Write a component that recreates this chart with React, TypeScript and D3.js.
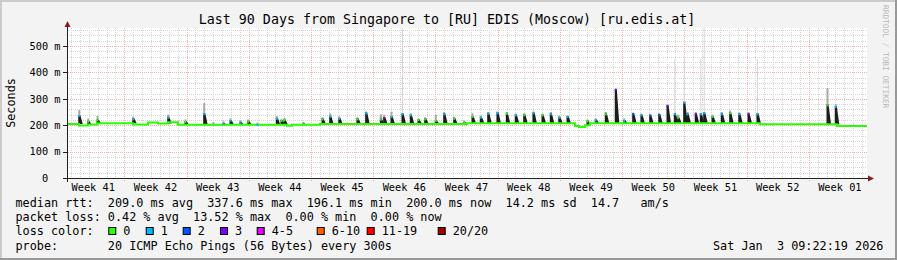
import React from 'react';
import * as d3 from 'd3';

const W = 897;
const H = 260;
const DAY = 86400000;
const START = Date.UTC(2025, 9, 6, 13, 12);
const SPAN_DAYS = 90;

const TITLE = 'Last 90 Days from Singapore to [RU] EDIS (Moscow) [ru.edis.at]';
const Y_TICKS = [0, 100, 200, 300, 400, 500];
const Y_TICK_LABELS = ['0', '100 m', '200 m', '300 m', '400 m', '500 m'];
const Y_MAX = 568.2;

const LOSS_LABELS = ['0', '1', '2', '3', '4-5', '6-10', '11-19', '20/20'];
const LOSS_COLORS = ['#26ff00', '#00b8ff', '#0059ff', '#7e00ff', '#dd00ff', '#ff5e00', '#ff0000', '#a10000'];

const LEGEND_RTT = 'median rtt:  209.0 ms avg  337.6 ms max  196.1 ms min  200.0 ms now  14.2 ms sd  14.7   am/s';
const LEGEND_LOSS = 'packet loss: 0.42 % avg  13.52 % max  0.00 % min  0.00 % now';
const LEGEND_LOSSCOLOR = 'loss color:';
const LEGEND_PROBE = 'probe:       20 ICMP Echo Pings (56 Bytes) every 300s';
const LEGEND_DATE = 'Sat Jan  3 09:22:19 2026';
const WATERMARK = 'RRDTOOL / TOBI OETIKER';

// median baseline (step changes): day offset, ms
const baseDays = [0, 1.35, 2.33, 3.37, 7.42, 9.11, 10.24, 11.36, 12.49, 24.75, 25.31, 28.46, 45, 57.15, 57.6, 58.27, 58.84, 77.96, 86.6];
const baseMs = [205, 199, 203, 207, 203, 210, 206, 211, 202, 198, 202, 205, 207, 197, 193, 200, 207, 204, 197];

// spikes: day offset, median peak (ms), smoke max (ms), loss class
const spikeDays = [1.32, 2.33, 3.38, 7.39, 11.33, 13.27, 15.38, 16.42, 17.55, 18.34, 19.46, 20.33, 21.37,
  23.55, 24.07, 24.41, 26.55, 28.69, 29.55, 30.57, 32.62, 33.6, 35.25, 35.63, 36.45, 37.69, 38.62, 39.49,
  40.24, 41.43, 42.38, 43.5, 44.63, 45.56, 46.5, 47.33, 48.37, 49.42, 50.43, 51.38, 52.42, 53.44, 54.37,
  55.32, 56.25, 58.5, 59.43, 60.56, 61.68, 62.63, 63.64, 64.57, 65.55, 66.57, 67.5, 68.32, 68.7, 69.38,
  69.75, 70.68, 71.25, 71.63, 72.56, 73.61, 74.55, 75.57, 76.61, 77.62, 85.5, 86.43];
const spikePeak = [239, 217, 222, 226, 232, 216, 246, 205, 208, 220, 213, 217, 205,
  228, 220, 222, 206, 226, 236, 228, 226, 249, 225, 231, 235, 245, 241, 223,
  226, 220, 245, 228, 212, 235, 232, 247, 249, 247, 241, 242, 249, 241, 245,
  232, 235, 218, 222, 245, 337, 220, 245, 241, 240, 242, 276, 245, 232, 289,
  245, 245, 245, 249, 235, 245, 249, 245, 245, 245, 279, 273];
const spikeMax = [257, 225, 235, 232, 240, 222, 284, 212, 215, 226, 218, 222, 210,
  234, 224, 228, 212, 230, 245, 233, 230, 252, 241, 240, 251, 570, 245, 226,
  230, 240, 250, 232, 218, 245, 236, 250, 252, 250, 244, 245, 252, 244, 250,
  236, 238, 222, 226, 250, 340, 226, 248, 244, 243, 246, 280, 450, 240, 450,
  250, 250, 450, 570, 240, 250, 255, 248, 250, 450, 341, 280];
const spikeLoss = [1, 0, 0, 1, 1, 0, 1, 0, 1, 1, 1, 0, 1,
  1, 0, 0, 0, 0, 1, 1, 0, 1, 0, 3, 1, 1, 1, 0,
  0, 0, 1, 0, 0, 0, 1, 1, 1, 0, 1, 0, 1, 0, 1,
  1, 1, 0, 1, 0, 3, 1, 2, 1, 2, 2, 3, 1, 0, 1,
  1, 3, 1, 1, 0, 1, 0, 1, 3, 1, 0, 1];

const LEGEND_BOX_X = [108.3, 145.7, 182.7, 220, 256.7, 316.7, 366.7, 437.7];

const MONO = '"DejaVu Sans Mono", monospace';

export default function App() {
  const x = d3.scaleUtc().domain([new Date(START), new Date(START + SPAN_DAYS * DAY)]).range([67, 867]);
  const y = d3.scaleLinear().domain([0, Y_MAX]).range([178, 28]);
  const dx = (d: number) => x(new Date(START + d * DAY));
  const baseAt = (d: number) => {
    let v = baseMs[0];
    for (let i = 0; i < baseDays.length; i++) if (baseDays[i] <= d) v = baseMs[i];
    return v;
  };

  const t0 = new Date(START);
  const t1 = new Date(START + SPAN_DAYS * DAY);
  const days = d3.utcDay.range(d3.utcDay.ceil(t0), t1);
  const weeks = d3.utcMonday.range(d3.utcMonday.ceil(t0), t1);
  const weekLabels = d3.utcMonday.range(d3.utcMonday.floor(t0), t1)
    .map((w) => ({ t: new Date(+w + 3.5 * DAY), label: 'Week ' + d3.utcFormat('%V')(w) }))
    .filter((o) => o.t >= t0 && o.t <= t1);
  const isWeek = (d: Date) => d.getUTCDay() === 1;

  const minorY = d3.range(20, Y_MAX, 20).filter((v) => v % 100 !== 0);
  const majorY = d3.range(100, Y_MAX, 100);

  const pts: [number, number][] = baseDays.map((d, i) => [d, baseMs[i]]);
  pts.push([SPAN_DAYS, baseMs[baseMs.length - 1]]);
  const medianPath = d3.line<[number, number]>()
    .x((p) => dx(p[0]))
    .y((p) => y(p[1]))
    .curve(d3.curveStepAfter)(pts) || '';

  return (
    <svg width={W} height={H} style={{ display: 'block', position: 'absolute', left: 0, top: 0 }}>
      <rect x={0} y={0} width={W} height={H} fill="#f3f3f3" />
      <path d={`M0,0H${W}V2H2V${H}H0Z`} fill="#cbcbcb" />
      <path d={`M${W},${H}H0V${H - 2}H${W - 2}V0H${W}Z`} fill="#999999" />
      <rect x={67} y={28} width={800} height={150} fill="#ffffff" />
      <g shapeRendering="crispEdges">
        {days.filter((d) => !isWeek(d)).map((d, i) => (
          <line key={'dv' + i} x1={Math.round(x(d)) + 0.5} x2={Math.round(x(d)) + 0.5} y1={28} y2={178}
            stroke="#d6d6d6" strokeDasharray="1 1" />
        ))}
        {minorY.map((v, i) => (
          <line key={'hy' + i} x1={67} x2={867} y1={Math.round(y(v)) + 0.5} y2={Math.round(y(v)) + 0.5}
            stroke="#d6d6d6" strokeDasharray="1 1" />
        ))}
        {weeks.map((d, i) => (
          <line key={'wv' + i} x1={Math.round(x(d)) + 0.5} x2={Math.round(x(d)) + 0.5} y1={28} y2={181}
            stroke="#f4b0b0" strokeDasharray="1 1" />
        ))}
        {majorY.map((v, i) => (
          <line key={'my' + i} x1={64} x2={867} y1={Math.round(y(v)) + 0.5} y2={Math.round(y(v)) + 0.5}
            stroke="#f4b0b0" strokeDasharray="1 1" />
        ))}
      </g>
      <g>
        {spikeDays.map((d, i) => {
          const px = dx(d);
          const b = y(baseAt(d));
          const p = y(spikePeak[i]);
          const m = Math.max(28, y(spikeMax[i]));
          const high = spikeMax[i] >= 400;
          return (
            <g key={'sp' + i}>
              {high ? (
                <rect x={px} y={m} width={1} height={Math.max(0, p - m)} fill="#d6d6d6" />
              ) : (
                <rect x={px - 0.5} y={m} width={2} height={Math.max(0, p - m)} fill="#a8a8a8" />
              )}
              <path d={`M${px - 0.5},${b}V${p}H${px + 1.5}L${px + 4},${b}Z`} fill="#1c1c1c" />
            </g>
          );
        })}
      </g>
      <path d={medianPath} fill="none" stroke={LOSS_COLORS[0]} strokeWidth={2} />
      {spikeDays.map((d, i) => {
        const px = dx(d);
        const p = y(spikePeak[i]);
        return <line key={'pk' + i} x1={px - 0.5} x2={px + 1.5} y1={p + 1} y2={p + 1} stroke={LOSS_COLORS[spikeLoss[i]]} strokeWidth={2} />;
      })}
      {/* axes */}
      <g shapeRendering="crispEdges">
        <line x1={63} x2={868} y1={178.5} y2={178.5} stroke="#202020" />
        <line x1={67.5} x2={67.5} y1={26} y2={182} stroke="#202020" />
        {Y_TICKS.map((v, i) => (
          <line key={'yt' + i} x1={63} x2={67} y1={Math.round(y(v)) + 0.5} y2={Math.round(y(v)) + 0.5} stroke="#202020" />
        ))}
      </g>
      <path d="M67.5,21 L64.5,27 L70.5,27 Z" fill="#8a1c1c" />
      <path d="M874,178.5 L868,175.5 L868,181.5 Z" fill="#8a1c1c" />
      {/* y labels */}
      {Y_TICKS.map((v, i) => (
        <text key={'yl' + i} x={45} y={y(v) + 3.8} fontFamily={MONO} fontSize={10.3} textAnchor="middle" fill="#000">
          {Y_TICK_LABELS[i]}
        </text>
      ))}
      {weekLabels.map((o, i) => (
        <text key={'xl' + i} x={x(o.t)} y={191} fontFamily={MONO} fontSize={10.3} textAnchor="middle" fill="#000">
          {o.label}
        </text>
      ))}
      <text x={0} y={0} transform="translate(14.5,103) rotate(-90)" fontFamily={MONO} fontSize={11.8} textAnchor="middle" fill="#000">
        Seconds
      </text>
      <text x={447} y={23.5} fontFamily={MONO} fontSize={13.3} textAnchor="middle" fill="#000">{TITLE}</text>
      <text x={0} y={0} transform="translate(883,5) rotate(90)" fontFamily={MONO} fontSize={7.8} fill="#b8b8b8">
        {WATERMARK}
      </text>
      {/* legend */}
      <g fontFamily={MONO} fontSize={11.8} fill="#000">
        <text x={15.5} y={207} xmlSpace="preserve" style={{ whiteSpace: 'pre' }}>{LEGEND_RTT}</text>
        <text x={15.5} y={221.2} xmlSpace="preserve" style={{ whiteSpace: 'pre' }}>{LEGEND_LOSS}</text>
        <text x={15.5} y={235.4} xmlSpace="preserve" style={{ whiteSpace: 'pre' }}>{LEGEND_LOSSCOLOR}</text>
        <text x={15.5} y={249.6} xmlSpace="preserve" style={{ whiteSpace: 'pre' }}>{LEGEND_PROBE}</text>
        <text x={713} y={249.6} xmlSpace="preserve" style={{ whiteSpace: 'pre' }}>{LEGEND_DATE}</text>
        {LOSS_LABELS.map((l, i) => (
          <g key={'lg' + i}>
            <rect x={LEGEND_BOX_X[i] + 0.5} y={227.5} width={7} height={7} fill={LOSS_COLORS[i]} stroke="#000" strokeWidth={1} />
            <text x={LEGEND_BOX_X[i] + 15} y={235.4}>{l}</text>
          </g>
        ))}
      </g>
    </svg>
  );
}
